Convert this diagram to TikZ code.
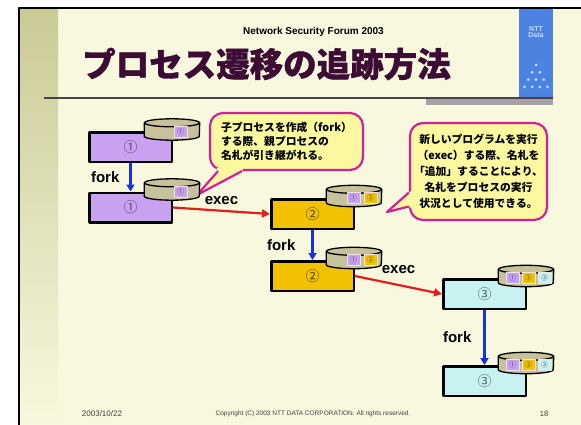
\documentclass[tikz,border=0pt]{standalone}
\usepackage{fontspec}
\setmainfont{Liberation Sans}
\newfontfamily\jp{Noto Sans CJK JP}
\newfontfamily\jptitle{Noto Sans CJK JP}[BoldFeatures={FakeBold=1.2}]
\usetikzlibrary{positioning,arrows.meta}
\definecolor{cream}{HTML}{F8F8DE}
\definecolor{olive}{HTML}{CACA96}
\definecolor{titlec}{HTML}{3C0C34}
\definecolor{rulegray}{HTML}{4A4248}
\definecolor{shadowgray}{HTML}{A8A2A8}
\definecolor{logoblue}{HTML}{4C82E0}
\definecolor{logotext}{HTML}{C8DCFF}
\definecolor{pa}{HTML}{C8A2F0}
\definecolor{pb}{HTML}{F2C200}
\definecolor{pc}{HTML}{C8F2F2}
\definecolor{khaki}{HTML}{C8C29C}
\definecolor{notefill}{HTML}{FCF8A0}
\definecolor{noteline}{HTML}{D0209C}
\definecolor{forkblue}{HTML}{1A30E0}
\definecolor{execred}{HTML}{E41C1C}

\begin{document}
\begin{tikzpicture}
  [x=1pt,y=-1pt,line join=round,
   proc/.style={draw,line width=2.5pt,minimum width=82.5pt,minimum height=29.5pt,inner sep=0pt,font=\jp\fontsize{14}{14}\selectfont},
   holder/.style={minimum width=55pt,minimum height=21pt,inner sep=0pt},
   holderbody/.style={draw,line width=1.3pt,fill=khaki},
   tag/.style={draw=white!80!gray,line width=.5pt,minimum width=13pt,minimum height=11pt,inner sep=0pt,font=\jp\fontsize{7}{7}\selectfont},
   forkarrow/.style={draw=forkblue,line width=2.2pt,-{Triangle[length=7pt,width=8pt]}},
   execarrow/.style={draw=execred,line width=2.2pt,-{Triangle[length=8pt,width=8pt]}},
   lbl/.style={inner sep=0pt,font=\bfseries\fontsize{15}{15}\selectfont},
   note/.style={draw=noteline,line width=2.2pt,fill=notefill,rounded corners=13pt,inner sep=0pt},
   tail/.style={draw=noteline,line width=2.2pt}]
  \useasboundingbox (0,0) rectangle (581,425);
  \fill[white] (0,0) rectangle (581,425);
  \fill[cream] (19,8) rectangle (581,425);
  \shade[top color=olive,middle color=olive,bottom color=cream] (20,9) rectangle (58,425);
  \fill[logoblue] (519,8) rectangle (553,97);
  \fill[shadowgray] (426,99) rectangle (553,105);
  \draw[rulegray,line width=1.6pt] (44,98) -- (553,98);
  \draw[line width=2pt] (19,425) -- (19,8) -- (581,8);
  \foreach \i in {1,...,4}
    \foreach \j in {1,...,\i}
      \fill[logotext] ({536+(\j-(\i+1)/2)*7.7},{65+(\i-1)*7.3}) circle (1.5);
  \node[inner sep=0pt,align=center,text=logotext,font=\bfseries\fontsize{7}{6}\selectfont] (logo) at (536,32) {NTT\\Data};

  \node[font=\bfseries\fontsize{10}{10}\selectfont] (forum) at (313.5,31.5) {Network Security Forum 2003};
  \node[anchor=west,inner sep=0pt,text=titlec,font=\jptitle\bfseries\fontsize{33.5}{33.5}\selectfont] (title) at (82,64) {プロセス遷移の追跡方法};
  \node[text=black!75,font=\fontsize{8}{8}\selectfont] (date) at (102,414) {2003/10/22};
  \node[text=black!75,font=\fontsize{6.5}{6.5}\selectfont] (copy) at (313,414) {Copyright (C) 2003 NTT DATA CORPORATION. All rights reserved.};
  \node[text=black!75,font=\fontsize{7.5}{7.5}\selectfont] (page) at (544,414) {18};

  \node[note,minimum width=153pt,minimum height=57pt,align=left,font=\jp\bfseries\fontsize{10.8}{14}\selectfont] (n1) at (286.5,141.5) {子プロセスを作成（fork）\\する際、親プロセスの\\名札が引き継がれる。};
  \node[note,minimum width=137pt,minimum height=97pt,align=center,font=\jp\bfseries\fontsize{10.8}{16}\selectfont] (n2) at (478.5,171.5) {新しいプログラムを実行\\（exec）する際、名札を\\「追加」することにより、\\名札をプロセスの実行\\状況として使用できる。};
  \coordinate (p1) at (197,195);
  \coordinate (p2) at (387,212);
  \fill[notefill] ([shift={(-70,-3)}]n1.south) -- ([shift={(-68.5,0)}]n1.south) -- (p1) -- ([shift={(-44.5,0)}]n1.south) -- ([shift={(-43,-3)}]n1.south) -- cycle;
  \draw[tail] ([shift={(-68.5,0)}]n1.south) -- (p1) -- ([shift={(-44.5,0)}]n1.south);
  \fill[notefill] ([shift={(3,19)}]n2.west) -- ([shift={(0,21)}]n2.west) -- (p2) -- ([shift={(0,35)}]n2.west) -- ([shift={(3,37)}]n2.west) -- cycle;
  \draw[tail] ([shift={(0,21)}]n2.west) -- (p2) -- ([shift={(0,35)}]n2.west);

  \node[proc,fill=pa,text=pa!45!black] (b1a) at (130.5,147.5) {①};
  \node[proc,fill=pa,text=pa!45!black,below=28pt of b1a] (b1b) {①};
  \node[proc,fill=pb,text=pb!35!black] (b2a) at (312.5,214) {②};
  \node[proc,fill=pb,text=pb!35!black,below=30pt of b2a] (b2b) {②};
  \node[proc,fill=pc,text=pc!40!black] (b3a) at (484.5,294) {③};
  \node[proc,fill=pc,text=pc!40!black,below=55pt of b3a] (b3b) {③};

  \foreach \b in {1a,1b,2a,2b,3a,3b}{
    \node[holder] (h\b) at ([shift={(-1,-2)}]b\b.north east) {};
    \draw[holderbody] ([shift={(0,4)}]h\b.north west) -- ([shift={(0,-4)}]h\b.south west)
      arc[start angle=180,end angle=0,x radius=27.5,y radius=4] -- ([shift={(0,4)}]h\b.north east) -- cycle;
    \draw[holderbody] ([shift={(0,4)}]h\b.north) ellipse[x radius=27.5,y radius=4];
  }
  \foreach \h in {h1a,h1b}
    \node[tag,fill=pa,text=pa!40!black] (\h-1) at ([shift={(-19,2)}]\h.east) {①};
  \foreach \h in {h2a,h2b}{
    \node[tag,fill=pa,text=pa!40!black] (\h-1) at ([shift={(-28,2)}]\h.east) {①};
    \node[tag,fill=pb,text=pb!35!black] (\h-2) at ([shift={(-11,2)}]\h.east) {②};
  }
  \foreach \h in {h3a,h3b}{
    \node[tag,fill=pa,text=pa!40!black] (\h-1) at ([shift={(-41,2)}]\h.east) {①};
    \node[tag,fill=pb,text=pb!35!black] (\h-2) at ([shift={(-25,2)}]\h.east) {②};
    \node[tag,fill=pc,text=pc!40!black] (\h-3) at ([shift={(-9,2)}]\h.east) {③};
  }

  \foreach \from/\to/\d in {b1a/b1b/10pt,b2a/b2b/16pt,b3a/b3b/12pt}
    \draw[forkarrow] (\from) -- node[lbl,left=\d]{fork} (\to);
  \foreach \from/\to/\d in {b1b/b2a/5pt,b2b/b3a/10pt}
    \draw[execarrow] (\from.east) -- node[lbl,above=\d]{exec} (\to.west);
\end{tikzpicture}
\end{document}
